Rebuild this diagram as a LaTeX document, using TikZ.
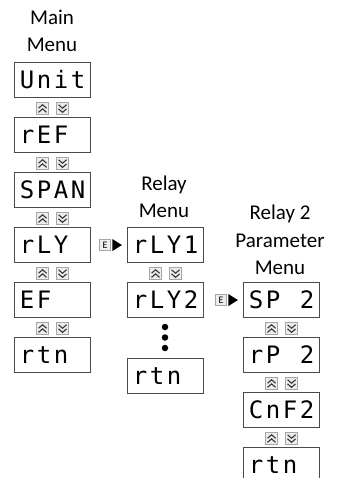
\documentclass[tikz,border=0pt]{standalone}
\usepackage{fontspec}
\setmainfont{Carlito}
\newfontfamily\segfont{DejaVu Sans Mono}
\usetikzlibrary{calc}
\definecolor{dispgray}{HTML}{4A4A4A}
\definecolor{btnline}{HTML}{A6A6A6}
\definecolor{btnfill}{HTML}{EDEDED}
\definecolor{chevcol}{HTML}{333333}
\newcommand\dsp[4]{\makebox[17pt]{#1}\makebox[17pt]{#2}\makebox[17pt]{#3}\makebox[17pt]{#4}}
\begin{document}
\begin{tikzpicture}[x=1pt,y=-1pt,
  disp/.style={draw=dispgray, line width=1.1pt, minimum width=76pt, minimum height=35pt,
    inner sep=0pt, text height=17pt, text depth=0pt, anchor=north west,
    font=\segfont\fontsize{24}{24}\selectfont},
  hdr/.style={font=\fontsize{21}{24}\selectfont, anchor=base, inner sep=0pt},
  btn/.style={draw=btnline, fill=btnfill, line width=0.8pt, minimum size=12.5pt, inner sep=0pt},
  chev/.style={draw=chevcol, line width=1.1pt},
  upbtn/.style={btn, path picture={
     \draw[chev, shift={(path picture bounding box.center)}] (-4,-0.3) -- (0,-3.8) -- (4,-0.3);
     \draw[chev, shift={(path picture bounding box.center)}] (-4,3.8) -- (0,0.3) -- (4,3.8);}},
  dnbtn/.style={btn, path picture={
     \draw[chev, shift={(path picture bounding box.center)}] (-4,-3.8) -- (0,-0.3) -- (4,-3.8);
     \draw[chev, shift={(path picture bounding box.center)}] (-4,0.3) -- (0,3.8) -- (4,0.3);}},
  ebtn/.style={draw=btnline, fill=btnfill, line width=0.8pt, minimum size=11pt, inner sep=0pt,
    font=\fontsize{10}{10}\selectfont},
  dot/.style={circle, fill=black, minimum size=6.5pt, inner sep=0pt}
]
\clip (0,0) rectangle (340,478);
\fill[white] (0,0) rectangle (340,478);

\newcommand\btnpair[3]{%
  \node[upbtn] (#3u) at ($(#1.south)!0.5!(#2.north)+(-10,1)$) {};
  \node[dnbtn] (#3d) at ($(#1.south)!0.5!(#2.north)+(10,1)$) {};}
\newcommand\earrow[2]{%
  \node[ebtn] (#2) at ([xshift=-22pt]#1.west) {E};
  \fill ($(#2.east)+(1.5,-6)$) -- ($(#2.east)+(11,0)$) -- ($(#2.east)+(1.5,6)$) -- cycle;}

% Main menu
\node[hdr] (hm1) at (52,25) {Main};
\node[hdr] (hm2) at (52,52) {Menu};
\node[disp] (unit) at (14,62)  {\dsp{U}{n}{i}{t}};
\node[disp] (ref)  at (14,117) {\dsp{r}{E}{F}{}};
\node[disp] (span) at (14,172) {\dsp{S}{P}{A}{N}};
\node[disp] (rly)  at (14,227) {\dsp{r}{L}{Y}{}};
\node[disp] (ef)   at (14,282) {\dsp{E}{F}{}{}};
\node[disp] (rtnA) at (14,337) {\dsp{r}{t}{n}{}};
\btnpair{unit}{ref}{bA}
\btnpair{ref}{span}{bB}
\btnpair{span}{rly}{bC}
\btnpair{rly}{ef}{bD}
\btnpair{ef}{rtnA}{bE}

% Relay menu
\node[hdr] (hr1) at (164,190) {Relay};
\node[hdr] (hr2) at (164,217) {Menu};
\node[disp] (rlyone) at (127,227) {\dsp{r}{L}{Y}{1}};
\node[disp] (rlytwo) at (127,282) {\dsp{r}{L}{Y}{2}};
\node[disp] (rtnB)   at (127,358) {\dsp{r}{t}{n}{}};
\btnpair{rlyone}{rlytwo}{bF}
\node[dot] (d1) at (165,327) {};
\node[dot] (d2) at (165,337.5) {};
\node[dot] (d3) at (165,348) {};
\earrow{rlyone}{eA}

% Relay 2 parameter menu
\node[hdr] (hp1) at (280,219) {Relay 2};
\node[hdr] (hp2) at (280,247) {Parameter};
\node[hdr] (hp3) at (280,274) {Menu};
\node[disp] (sp)   at (243,282) {\dsp{S}{P}{}{2}};
\node[disp] (rp)   at (243,337) {\dsp{r}{P}{}{2}};
\node[disp] (cnf)  at (243,392) {\dsp{C}{n}{F}{2}};
\node[disp] (rtnC) at (243,447) {\dsp{r}{t}{n}{}};
\btnpair{sp}{rp}{bG}
\btnpair{rp}{cnf}{bH}
\btnpair{cnf}{rtnC}{bI}
\earrow{sp}{eB}
\end{tikzpicture}
\end{document}
